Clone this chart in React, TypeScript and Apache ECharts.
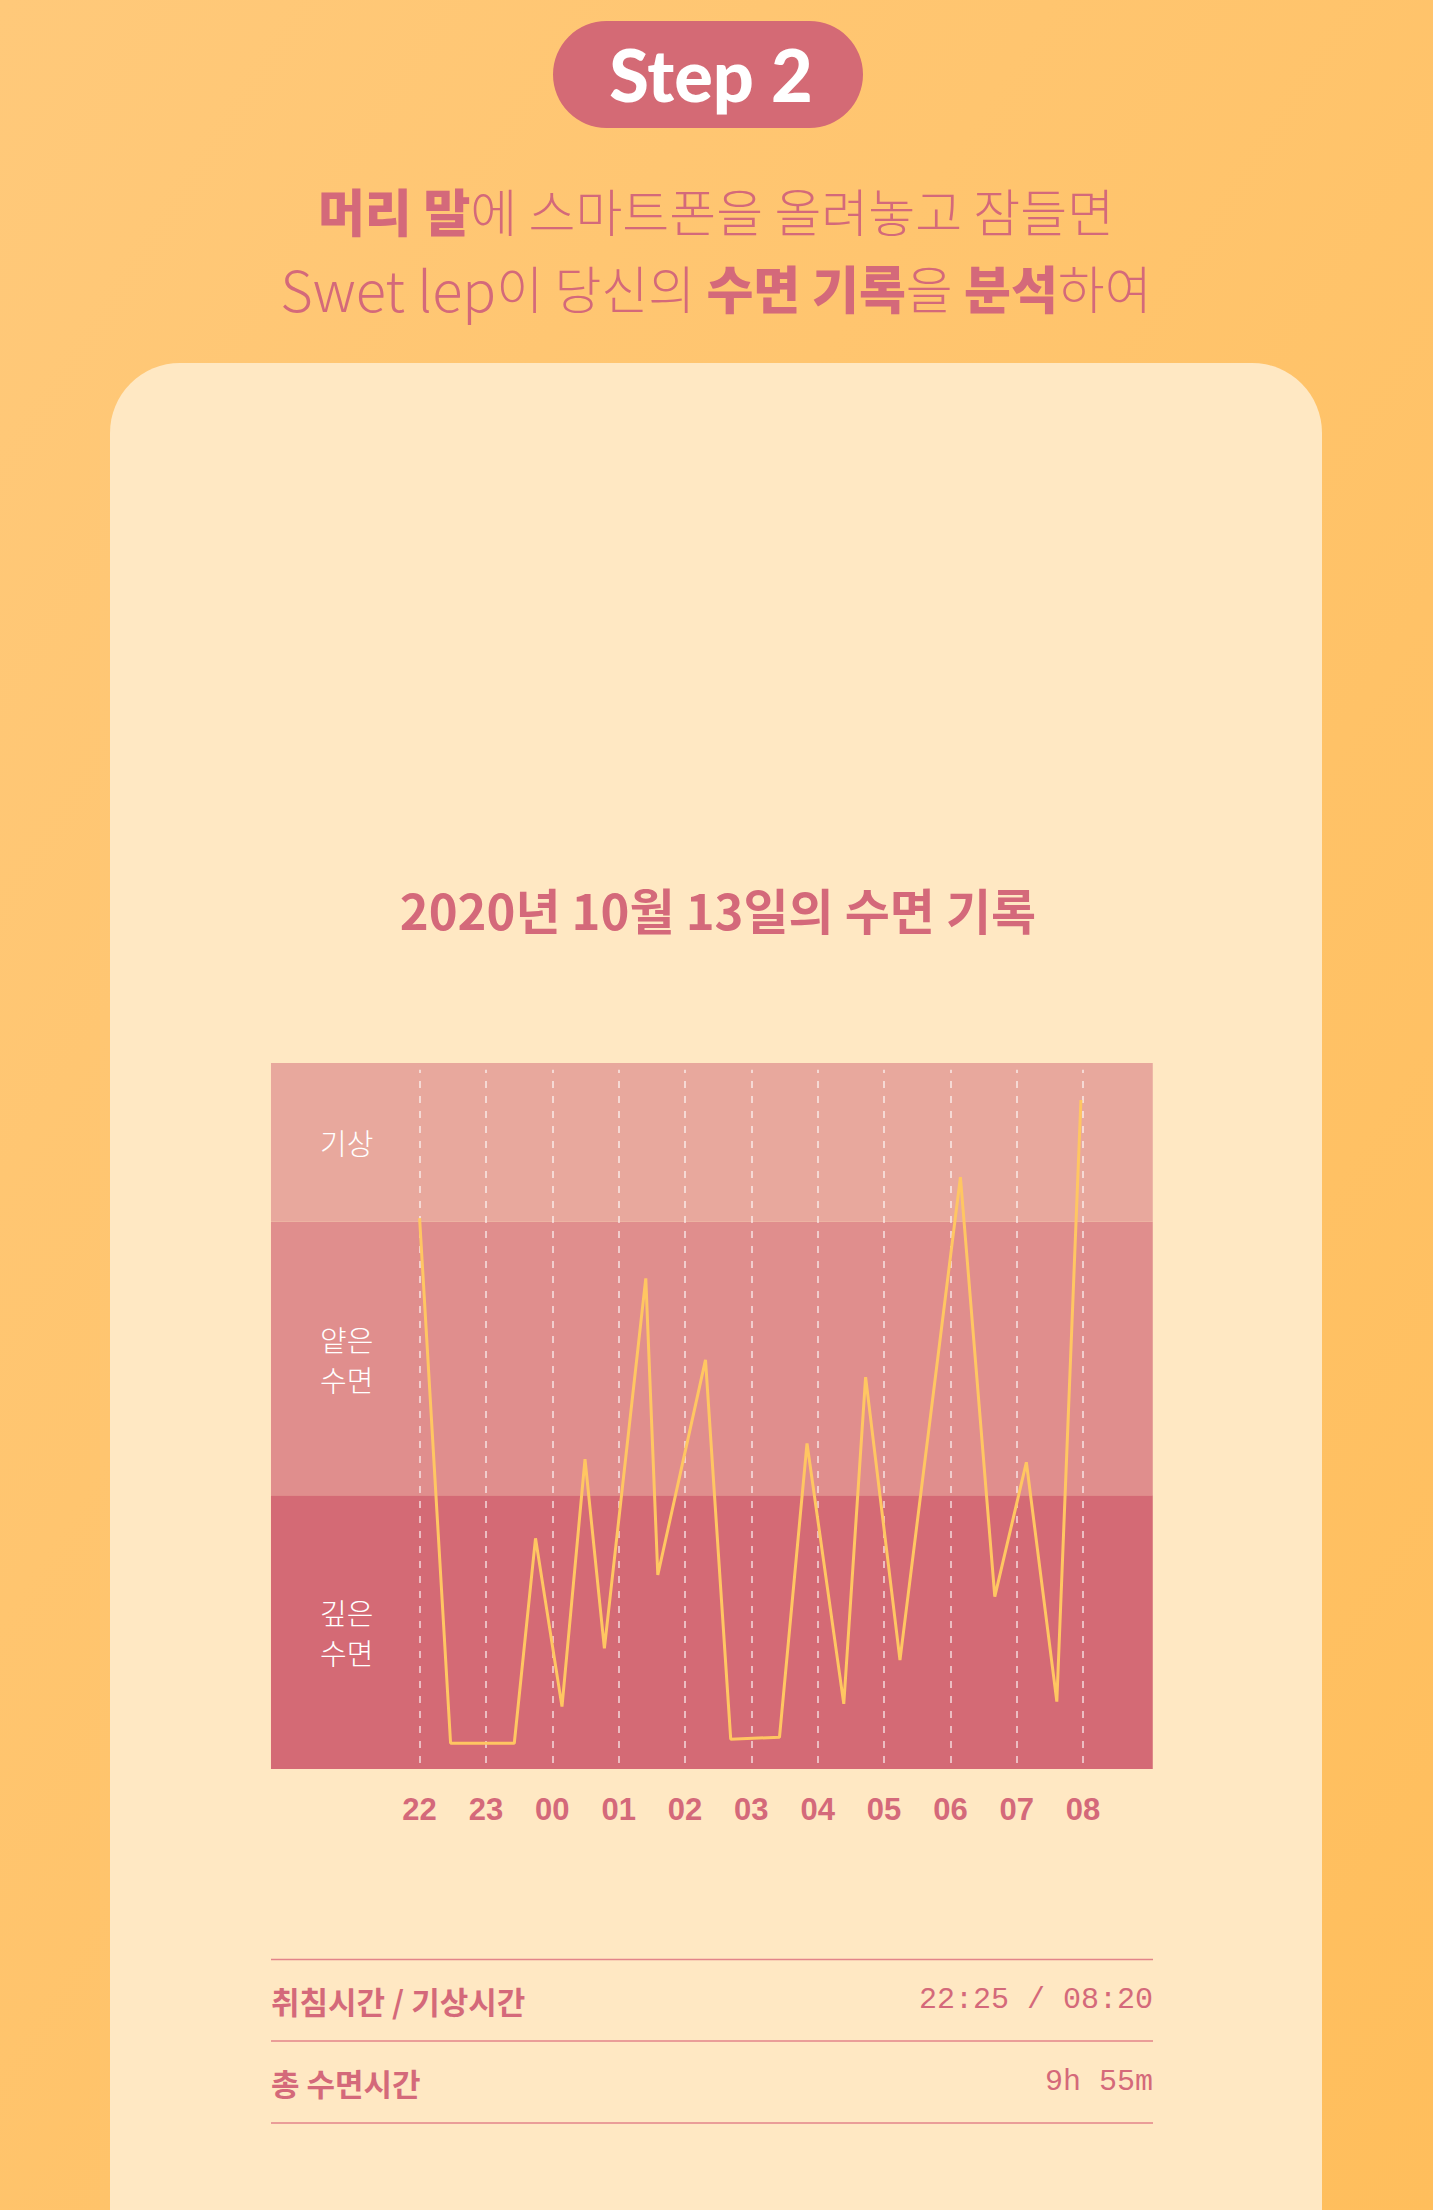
import React, { useEffect, useRef } from 'react';
import * as echarts from 'echarts';

// ---- data ----
const hourTicks = [0, 1, 2, 3, 4, 5, 6, 7, 8, 9, 10];
const hourLabels = ['22', '23', '00', '01', '02', '03', '04', '05', '06', '07', '08'];
// hours after 22:00
const sleepX = [0, 0.467, 1.427, 1.747, 2.146, 2.493, 2.785, 3.409, 3.59, 4.309, 4.689, 5.424, 5.839, 6.393, 6.722, 7.24, 8.151, 8.669, 9.145, 9.604, 9.967];
// sleep depth: 0-1 deep, 1-2 light, 2+ awake
const sleepY = [2.013, 0.094, 0.094, 0.843, 0.228, 1.132, 0.441, 1.793, 0.709, 1.495, 0.109, 0.116, 1.19, 0.238, 1.432, 0.398, 2.163, 0.63, 1.121, 0.246, 2.445];
const stageNames = ['깊은\n수면', '얕은\n수면', '기상'];
const stageBounds = [0, 1, 2, 2.58];
const stageColors = ['#D46A75', '#E08E8D', '#E8A89D'];
const chartXRange = [-2.24, 11.05];
const tableLabels = ['취침시간 / 기상시간', '총 수면시간'];
const tableValues = ['22:25 / 08:20', '9h 55m'];

const PINK = '#D4697A';
const KR = '"Noto Sans CJK KR", "Noto Sans", sans-serif';

export default function App() {
  const ref = useRef<HTMLDivElement>(null);
  useEffect(() => {
    document.body.style.margin = '0';
    if (!ref.current) return;
    const chart = echarts.init(ref.current, undefined, { renderer: 'svg' });

    const areaData = stageNames.map((name, i) => [
      {
        name,
        xAxis: chartXRange[0],
        yAxis: stageBounds[i],
        itemStyle: { color: stageColors[i], opacity: 1 },
      },
      { xAxis: chartXRange[1], yAxis: stageBounds[i + 1] },
    ]);

    const lineData = hourTicks.map((h) => [
      { coord: [h, 0.022] },
      { coord: [h, 2.555] },
    ]);

    const graphic: any[] = [
      {
        type: 'rect', z: -20, silent: true,
        shape: { x: 0, y: 0, width: 1433, height: 2210 },
        style: {
          fill: new echarts.graphic.LinearGradient(0, 0, 1, 1, [
            { offset: 0, color: '#FFC97A' },
            { offset: 1, color: '#FFBE5C' },
          ]),
        },
      },
      {
        type: 'rect', z: -19, silent: true,
        shape: { x: 110, y: 363, width: 1212, height: 1900, r: [70, 70, 0, 0] },
        style: { fill: '#FFE8C3' },
      },
      {
        type: 'rect', z: -18, silent: true,
        shape: { x: 553, y: 21, width: 310, height: 107, r: 53.5 },
        style: { fill: '#D46A75' },
      },
      {
        type: 'text', z: -17, silent: true,
        style: {
          text: 'Step 2', x: 711, y: 74, fill: '#FFFFFF',
          fontSize: 72, fontWeight: 900, fontFamily: 'Lato, "Noto Sans", sans-serif',
          align: 'center', verticalAlign: 'middle',
        },
      },
      {
        type: 'text', z: -17, silent: true,
        style: {
          text: '{b|머리 말}{r|에 스마트폰을 올려놓고 잠들면}',
          x: 716, y: 210, align: 'center', verticalAlign: 'middle',
          fill: PINK, fontSize: 51, fontFamily: KR,
          rich: {
            b: { fontSize: 51, fontWeight: 900, fontFamily: KR, fill: PINK },
            r: { fontSize: 51, fontWeight: 300, fontFamily: KR, fill: PINK },
          },
        },
      },
      {
        type: 'text', z: -17, silent: true,
        style: {
          text: '{l|Swet lep}{r|이 당신의 }{b|수면 기록}{r|을 }{b|분석}{r|하여}',
          x: 716, y: 287, align: 'center', verticalAlign: 'middle',
          fill: PINK, fontSize: 51, fontFamily: KR,
          rich: {
            l: { fontSize: 56, fontWeight: 300, fontFamily: KR, fill: PINK },
            b: { fontSize: 51, fontWeight: 900, fontFamily: KR, fill: PINK },
            r: { fontSize: 51, fontWeight: 300, fontFamily: KR, fill: PINK },
          },
        },
      },
      {
        type: 'text', z: -17, silent: true,
        style: {
          text: '2020년 10월 13일의 수면 기록', x: 718, y: 908,
          align: 'center', verticalAlign: 'middle',
          fill: PINK, fontSize: 49, fontWeight: 'bold', fontFamily: KR,
        },
      },
    ];

    const sepY = [1959.5, 2041, 2123];
    sepY.forEach((y) => {
      graphic.push({
        type: 'line', silent: true, z: -16,
        shape: { x1: 271, y1: y, x2: 1153, y2: y },
        style: { stroke: '#E3848A', lineWidth: 1.5 },
      });
    });
    tableLabels.forEach((t, i) => {
      const cy = (sepY[i] + sepY[i + 1]) / 2;
      graphic.push({
        type: 'text', silent: true, z: -16,
        style: {
          text: t, x: 271, y: cy, align: 'left', verticalAlign: 'middle',
          fill: PINK, fontSize: 31, fontWeight: 'bold', fontFamily: KR,
        },
      });
      graphic.push({
        type: 'text', silent: true, z: -16,
        style: {
          text: tableValues[i], x: 1153, y: cy, align: 'right', verticalAlign: 'middle',
          fill: PINK, fontSize: 30, fontWeight: 'normal', fontFamily: '"Liberation Mono", "DejaVu Sans Mono", monospace',
        },
      });
    });

    chart.setOption({
      animation: false,
      graphic,
      grid: { left: 220.55, width: 995.25, top: 1063, height: 706, containLabel: false },
      xAxis: {
        type: 'value', min: -3, max: 12, interval: 1,
        axisLine: { show: false }, axisTick: { show: false }, splitLine: { show: false },
        axisLabel: {
          show: true, margin: 25, color: PINK, fontSize: 31, fontWeight: 'bold',
          fontFamily: '"Liberation Sans", Arial, sans-serif',
          formatter: (v: number) => {
            const i = hourTicks.indexOf(Math.round(v));
            return i >= 0 && Math.abs(v - Math.round(v)) < 1e-6 ? hourLabels[i] : '';
          },
        },
      },
      yAxis: {
        type: 'value', min: 0, max: 2.58, show: false, splitLine: { show: false },
      },
      series: [
        {
          type: 'line', data: [], silent: true, z: 1,
          markArea: {
            silent: true, z: 1,
            label: {
              show: true, position: 'insideLeft', distance: 49, formatter: '{b}',
              color: '#FFFFFF', fontSize: 29, fontWeight: 300, fontFamily: KR,
              lineHeight: 40, align: 'left',
            },
            emphasis: { disabled: true },
            data: areaData,
          },
        },
        {
          type: 'line', data: [], silent: true, z: 2,
          markLine: {
            silent: true, z: 2, symbol: ['none', 'none'], label: { show: false },
            lineStyle: { color: 'rgba(255,255,255,0.75)', width: 1.5, type: [7, 8] },
            emphasis: { disabled: true },
            data: lineData,
          },
        },
        {
          type: 'line', z: 3, silent: true, symbol: 'none', smooth: false,
          lineStyle: { color: '#FFC662', width: 3 },
          data: sleepX.map((x, i) => [x, sleepY[i]]),
        },
      ],
    });
    return () => chart.dispose();
  }, []);
  return <div ref={ref} style={{ width: 1433, height: 2210 }} />;
}
